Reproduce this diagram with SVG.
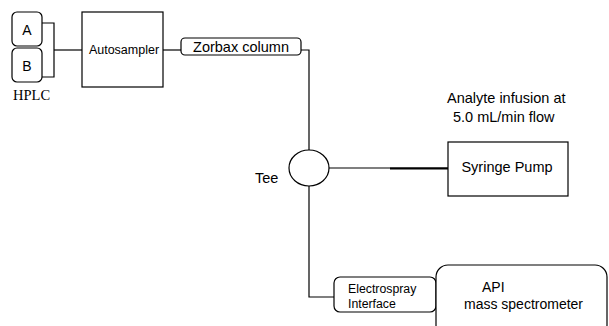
<svg xmlns="http://www.w3.org/2000/svg" width="609" height="326" viewBox="0 0 609 326">
<style>
.b{fill:#fff;stroke:#000;stroke-width:1.2}
.c{fill:none;stroke:#000;stroke-width:1.2}
.t{font-family:"Liberation Sans",Arial,sans-serif;fill:#000}
.s{font-family:"Liberation Serif","Times New Roman",serif;fill:#000}
</style>
<rect width="609" height="326" fill="#fff"/>
<g id="connectors">
<path class="c" d="M42,23 H54 V77 H42"/>
<path class="c" d="M54,50 H82"/>
<path class="c" d="M163,50 H181"/>
<path class="c" d="M301,50 H309 V150"/>
<path class="c" d="M309,186 V297 H334"/>
<path class="c" d="M329,168 H448"/>
<path d="M390,168.5 H448" stroke="#000" stroke-width="1.9" fill="none"/>
</g>
<g id="hplc">
<rect class="b" x="12" y="12" width="30" height="34" rx="5"/>
<rect class="b" x="12" y="48" width="30" height="34" rx="5"/>
<text class="t" x="27" y="35" font-size="14" text-anchor="middle">A</text>
<text class="t" x="27" y="71" font-size="14" text-anchor="middle">B</text>
<text class="s" x="13" y="100" font-size="14.5">HPLC</text>
</g>
<g id="autosampler">
<rect class="b" x="82" y="12" width="81" height="75"/>
<text class="t" x="124" y="54" font-size="12.5" text-anchor="middle">Autosampler</text>
</g>
<g id="zorbax">
<rect class="b" x="181" y="38" width="120" height="17" rx="4"/>
<text class="t" x="241" y="52" font-size="14.5" text-anchor="middle">Zorbax column</text>
</g>
<g id="tee">
<ellipse class="b" cx="309" cy="168" rx="20" ry="18"/>
<text class="t" x="255" y="183" font-size="14.5">Tee</text>
</g>
<g id="syringe">
<rect class="b" x="448" y="142" width="120" height="54"/>
<text class="t" x="507" y="172" font-size="14.5" text-anchor="middle">Syringe Pump</text>
<text class="t" x="447" y="103" font-size="14.5">Analyte infusion at</text>
<text class="t" x="453" y="122" font-size="14.5">5.0 mL/min flow</text>
</g>
<g id="electrospray">
<rect class="b" x="334" y="277" width="102" height="35" rx="6"/>
<text class="t" x="348" y="293" font-size="12.3">Electrospray</text>
<text class="t" x="348" y="308" font-size="12.3">Interface</text>
</g>
<g id="api">
<rect class="b" x="436" y="265" width="171" height="72" rx="12"/>
<text class="t" x="482" y="292" font-size="14">API</text>
<text class="t" x="464" y="309" font-size="14">mass spectrometer</text>
</g>
</svg>
